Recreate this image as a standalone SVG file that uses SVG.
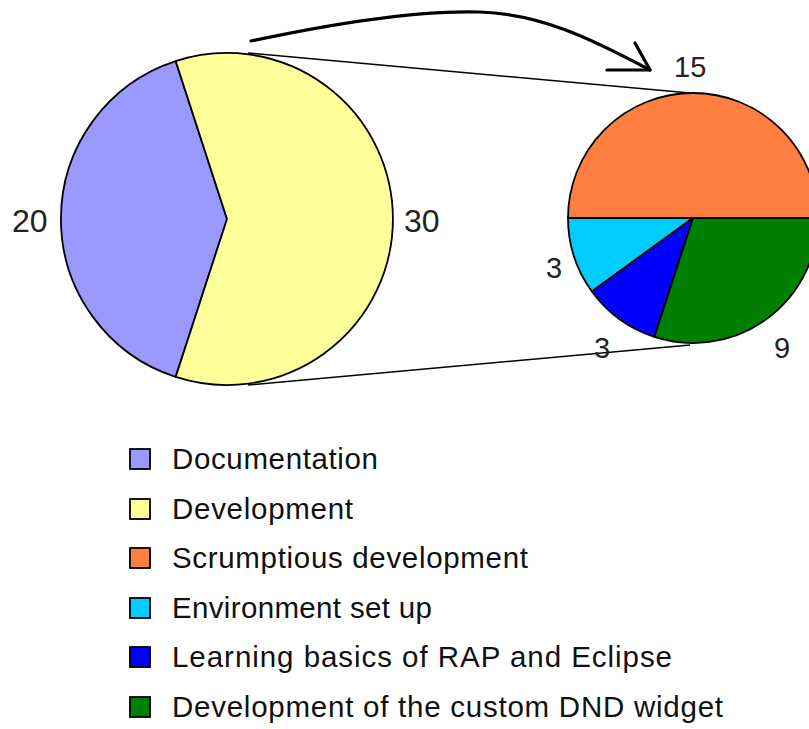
<svg xmlns="http://www.w3.org/2000/svg" width="809" height="729" viewBox="0 0 809 729">
  <style>
    .slice { stroke: #000; stroke-width: 1.8; stroke-linejoin: round; }
    .lbl { font-family: "Liberation Sans", Arial, sans-serif; fill: #222; }
    .big { font-size: 32px; }
    .small { font-size: 29px; }
    .leg { font-family: "Liberation Sans", Arial, sans-serif; font-size: 29.5px; fill: #111; }
    .key { stroke: #000; stroke-width: 1.8; }
    .link { fill: none; stroke: #000; stroke-width: 1.5; }
    .arrow { fill: none; stroke: #000; stroke-width: 3.2; stroke-linecap: round; stroke-linejoin: round; }
  </style>

  <rect width="809" height="729" fill="#fff"/>

  <!-- connectors: projection lines and the curved arrow -->
  <g id="connectors">
    <line class="link" x1="248" y1="53" x2="690" y2="93"/>
    <line class="link" x1="248" y1="385" x2="690" y2="345"/>
    <path class="arrow" d="M251,41 C340,22 420,10 480,12 C540,14 590,38 650,70"/>
    <path class="arrow" d="M635,43 L650,70 L607,70"/>
  </g>

  <!-- main pie: Documentation 20 / Development 30 -->
  <g id="main-pie">
    <path class="slice" fill="#9999FF" d="M227,219 L175.7,61.1 A166,166 0 0,0 175.7,376.9 Z"/>
    <path class="slice" fill="#FFFF99" d="M227,219 L175.7,61.1 A166,166 0 1,1 175.7,376.9 Z"/>
    <text class="lbl big" x="12" y="232">20</text>
    <text class="lbl big" x="404" y="232">30</text>
  </g>

  <!-- breakdown pie of Development -->
  <g id="detail-pie">
    <path class="slice" fill="#FF7F40" d="M693,218 L568,218 A125,125 0 0,1 818,218 Z"/>
    <path class="slice" fill="#00CCFF" d="M693,218 L568,218 A125,125 0 0,0 591.9,291.5 Z"/>
    <path class="slice" fill="#0000FF" d="M693,218 L591.9,291.5 A125,125 0 0,0 654.4,336.9 Z"/>
    <path class="slice" fill="#008000" d="M693,218 L654.4,336.9 A125,125 0 0,0 818,218 Z"/>
    <text class="lbl small" x="674" y="77">15</text>
    <text class="lbl small" x="546" y="278">3</text>
    <text class="lbl small" x="594" y="358">3</text>
    <text class="lbl small" x="774" y="358">9</text>
  </g>

  <!-- legend -->
  <g id="legend-documentation">
    <rect class="key" x="130" y="449" width="20" height="20" fill="#9999FF"/>
    <text class="leg" x="172" y="469" textLength="206">Documentation</text>
  </g>
  <g id="legend-development">
    <rect class="key" x="130" y="499" width="20" height="20" fill="#FFFF99"/>
    <text class="leg" x="172" y="519" textLength="181">Development</text>
  </g>
  <g id="legend-scrumptious">
    <rect class="key" x="130" y="548" width="20" height="20" fill="#FF7F40"/>
    <text class="leg" x="172" y="568" textLength="356">Scrumptious development</text>
  </g>
  <g id="legend-environment">
    <rect class="key" x="130" y="598" width="20" height="20" fill="#00CCFF"/>
    <text class="leg" x="172" y="618" textLength="260">Environment set up</text>
  </g>
  <g id="legend-learning">
    <rect class="key" x="130" y="647" width="20" height="20" fill="#0000FF"/>
    <text class="leg" x="172" y="667" textLength="500">Learning basics of RAP and Eclipse</text>
  </g>
  <g id="legend-dnd">
    <rect class="key" x="130" y="697" width="20" height="20" fill="#008000"/>
    <text class="leg" x="172" y="717" textLength="551">Development of the custom DND widget</text>
  </g>
</svg>
